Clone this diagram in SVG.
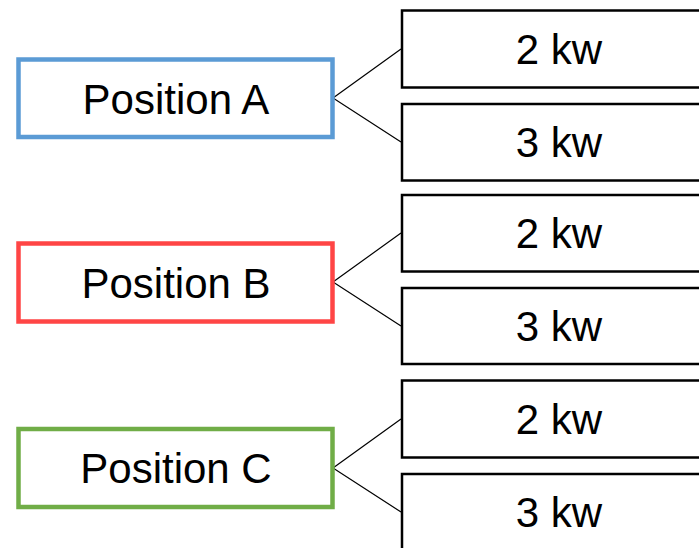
<svg xmlns="http://www.w3.org/2000/svg" width="699" height="548" viewBox="0 0 699 548">
<style>
  .pos { fill: #ffffff; stroke-width: 4.5; }
  .kw { fill: #ffffff; stroke: #000000; stroke-width: 2.5; }
  .lbl { font-family: "Liberation Sans", Arial, sans-serif; font-size: 42px; fill: #000000; text-anchor: middle; }
  .conn { stroke: #000000; stroke-width: 1.2; fill: none; }
</style>
<rect width="699" height="548" fill="#ffffff"/>
<g id="connectors">
  <polyline class="conn" points="401,49 333,98 401,142"/>
  <polyline class="conn" points="401,233 333,282 401,326"/>
  <polyline class="conn" points="401,419 333,468 401,512"/>
</g>
<g id="posA">
  <rect class="pos" x="18.5" y="59.5" width="314" height="77.5" stroke="#5B9BD5"/>
  <text class="lbl" x="176" y="113.5">Position A</text>
</g>
<g id="posB">
  <rect class="pos" x="18.5" y="243.5" width="314" height="78" stroke="#FF4545"/>
  <text class="lbl" x="176" y="297.5">Position B</text>
</g>
<g id="posC">
  <rect class="pos" x="18.5" y="429" width="314" height="78" stroke="#70AD47"/>
  <text class="lbl" x="176" y="483">Position C</text>
</g>
<g id="a2">
  <rect class="kw" x="402" y="10.5" width="314" height="77"/>
  <text class="lbl" x="559" y="64">2 kw</text>
</g>
<g id="a3">
  <rect class="kw" x="402" y="104" width="314" height="76.5"/>
  <text class="lbl" x="559" y="157">3 kw</text>
</g>
<g id="b2">
  <rect class="kw" x="402" y="195" width="314" height="76.5"/>
  <text class="lbl" x="559" y="248">2 kw</text>
</g>
<g id="b3">
  <rect class="kw" x="402" y="288" width="314" height="76"/>
  <text class="lbl" x="559" y="341">3 kw</text>
</g>
<g id="c2">
  <rect class="kw" x="402" y="380.5" width="314" height="77"/>
  <text class="lbl" x="559" y="434">2 kw</text>
</g>
<g id="c3">
  <rect class="kw" x="402" y="474" width="314" height="77"/>
  <text class="lbl" x="559" y="527">3 kw</text>
</g>
</svg>
